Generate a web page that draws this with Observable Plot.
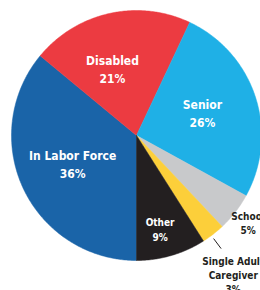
<!DOCTYPE html>
<html><head><meta charset="utf-8">
<script src="https://cdn.jsdelivr.net/npm/d3@7"></script>
<script src="https://cdn.jsdelivr.net/npm/@observablehq/plot@0.6"></script>
<style>html,body{margin:0;padding:0;background:#fff;overflow:hidden}</style>
</head><body><div id="chart"></div>
<script>
// ---- data ----
const categories = ["In Labor Force", "Disabled", "Senior", "School", "Single Adult Caregiver", "Other"];
const values = [36, 21, 26, 5, 3, 9];
const labels = ["In Labor Force\n36%", "Disabled\n21%", "Senior\n26%", "School\n5%", "Single Adult\nCaregiver\n3%", "Other\n9%"];
const colors = ["#1a64a8", "#ec3b41", "#1fb0e6", "#c8c9cb", "#fccf3a", "#231f20"];

// ---- layout (label placement relative to each slice) ----
const labelRadius = [0.556, 0.573, 0.56, 1.13, 1.356, 0.77];
const labelShift = [2, -7, -1.6, 0, 3, 2]; // degrees
const inside = [true, true, true, false, false, true];
const labelSize = [12, 12, 12, 10, 10, 10];
const leaderIndex = 4, leaderShift = 1, leaderR = [1.03, 1.13];

const arcs = d3.pie().sort(null).startAngle(Math.PI).endAngle(3 * Math.PI)(values);
const slicePts = [];
arcs.forEach((a, i) => {
  slicePts.push({k: categories[i], x: 0, y: 0});
  const n = Math.max(6, Math.ceil((a.endAngle - a.startAngle) / 0.01));
  for (let j = 0; j <= n; j++) {
    const t = a.startAngle + (a.endAngle - a.startAngle) * j / n;
    slicePts.push({k: categories[i], x: Math.sin(t), y: Math.cos(t)});
  }
  slicePts.push({k: categories[i], x: 0, y: 0});
});
const rad = Math.PI / 180;
const labelData = arcs.map((a, i) => {
  const t = (a.startAngle + a.endAngle) / 2 + labelShift[i] * rad;
  return {text: labels[i], x: labelRadius[i] * Math.sin(t), y: labelRadius[i] * Math.cos(t), size: labelSize[i], inside: inside[i]};
});
const la = arcs[leaderIndex];
const lt = (la.startAngle + la.endAngle) / 2 + leaderShift * rad;
const leader = [{x1: leaderR[0] * Math.sin(lt), y1: leaderR[0] * Math.cos(lt), x2: leaderR[1] * Math.sin(lt), y2: leaderR[1] * Math.cos(lt)}];

const font = "'Liberation Sans Narrow', 'Arial Narrow', 'DejaVu Sans Condensed', sans-serif";
const chart = Plot.plot({
  width: 260, height: 290, margin: 0,
  style: {background: "#fff", fontFamily: font},
  x: {domain: [-1.088, 0.992], range: [0, 260], axis: null},
  y: {domain: [-1.24, 1.08], range: [290, 0], axis: null},
  color: {domain: categories, range: colors},
  marks: [
    Plot.line(slicePts, {x: "x", y: "y", z: "k", fill: "k", stroke: "k", strokeWidth: 0.5, curve: "linear"}),
    Plot.link(leader, {x1: "x1", y1: "y1", x2: "x2", y2: "y2", stroke: "#231f20", strokeWidth: 1}),
    Plot.text(labelData.filter(d => d.inside), {x: "x", y: "y", text: "text", fill: "#fff", fontSize: "size", fontWeight: "bold", lineHeight: 1.5, lineAnchor: "middle", textAnchor: "middle"}),
    Plot.text(labelData.filter(d => !d.inside), {x: "x", y: "y", text: "text", fill: "#231f20", fontSize: "size", fontWeight: "bold", lineHeight: 1.4, lineAnchor: "middle", textAnchor: "middle"})
  ]
});
document.getElementById("chart").appendChild(chart);
</script>
</body></html>
